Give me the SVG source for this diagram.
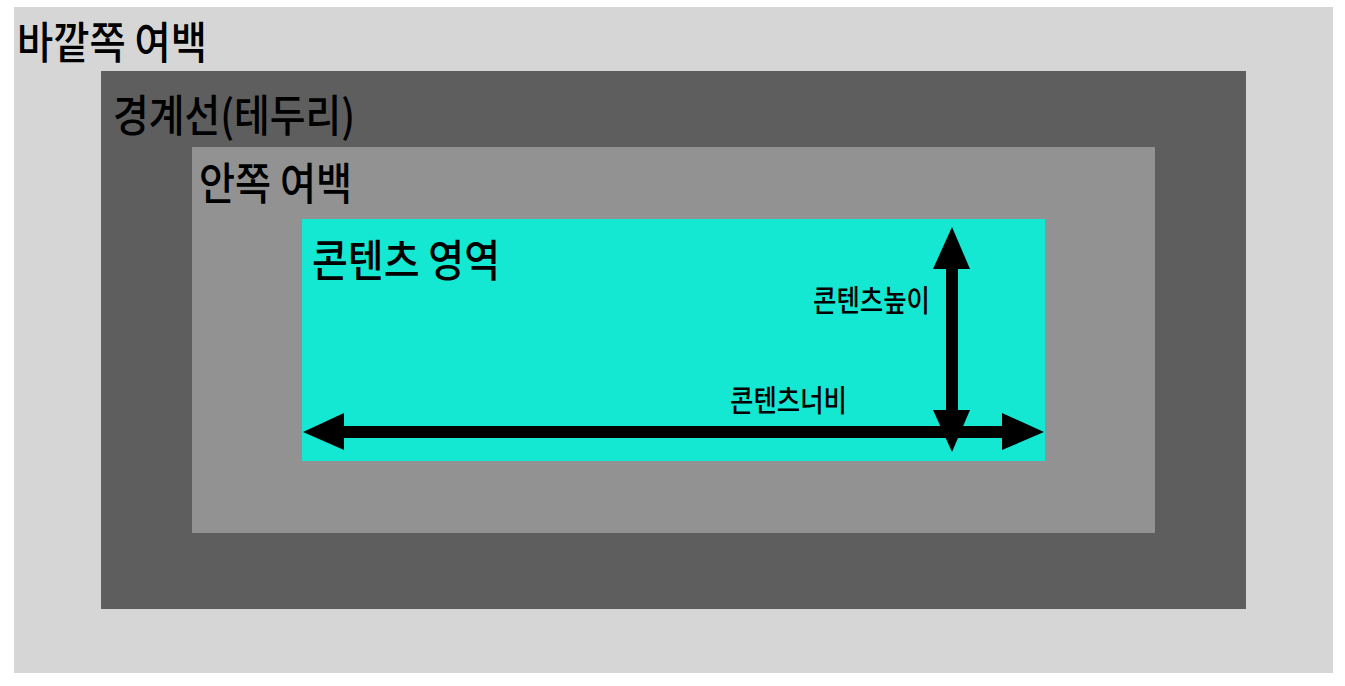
<svg xmlns="http://www.w3.org/2000/svg" width="1345" height="686" viewBox="0 0 1345 686">
<style>
.t{font-family:"Noto Sans CJK KR","Noto Sans",sans-serif;fill:#000;font-weight:500;}
.big{font-size:44px;}
.small{font-size:30px;}
</style>
<rect x="0" y="0" width="1345" height="686" fill="#ffffff"/>
<g id="margin">
<rect x="14" y="7" width="1319" height="666" fill="#d6d6d6"/>
<text class="t big" x="17" y="59" textLength="190" lengthAdjust="spacingAndGlyphs">바깥쪽 여백</text>
</g>
<g id="border">
<rect x="101" y="71" width="1145" height="538" fill="#5e5e5e"/>
<text class="t big" x="113" y="132" textLength="242" lengthAdjust="spacingAndGlyphs">경계선(테두리)</text>
</g>
<g id="padding">
<rect x="192" y="147" width="963" height="386" fill="#929292"/>
<text class="t big" x="199" y="200" textLength="153" lengthAdjust="spacingAndGlyphs">안쪽 여백</text>
</g>
<g id="content">
<rect x="302" y="219" width="743" height="242" fill="#15e8d2"/>
<text class="t big" x="312" y="277" textLength="188" lengthAdjust="spacingAndGlyphs">콘텐츠 영역</text>
<text class="t small" x="813" y="311" textLength="117" lengthAdjust="spacingAndGlyphs">콘텐츠높이</text>
<text class="t small" x="730" y="411" textLength="117" lengthAdjust="spacingAndGlyphs">콘텐츠너비</text>
</g>
<g id="connectors" fill="#000">
<rect x="342" y="426" width="662" height="12"/>
<polygon points="303,432 344,413 344,450"/>
<polygon points="1044,432 1002,413 1002,450"/>
<rect x="946" y="267" width="12" height="145"/>
<polygon points="952,227 933,269 970,269"/>
<polygon points="952,452 933,410 970,410"/>
</g>
</svg>
